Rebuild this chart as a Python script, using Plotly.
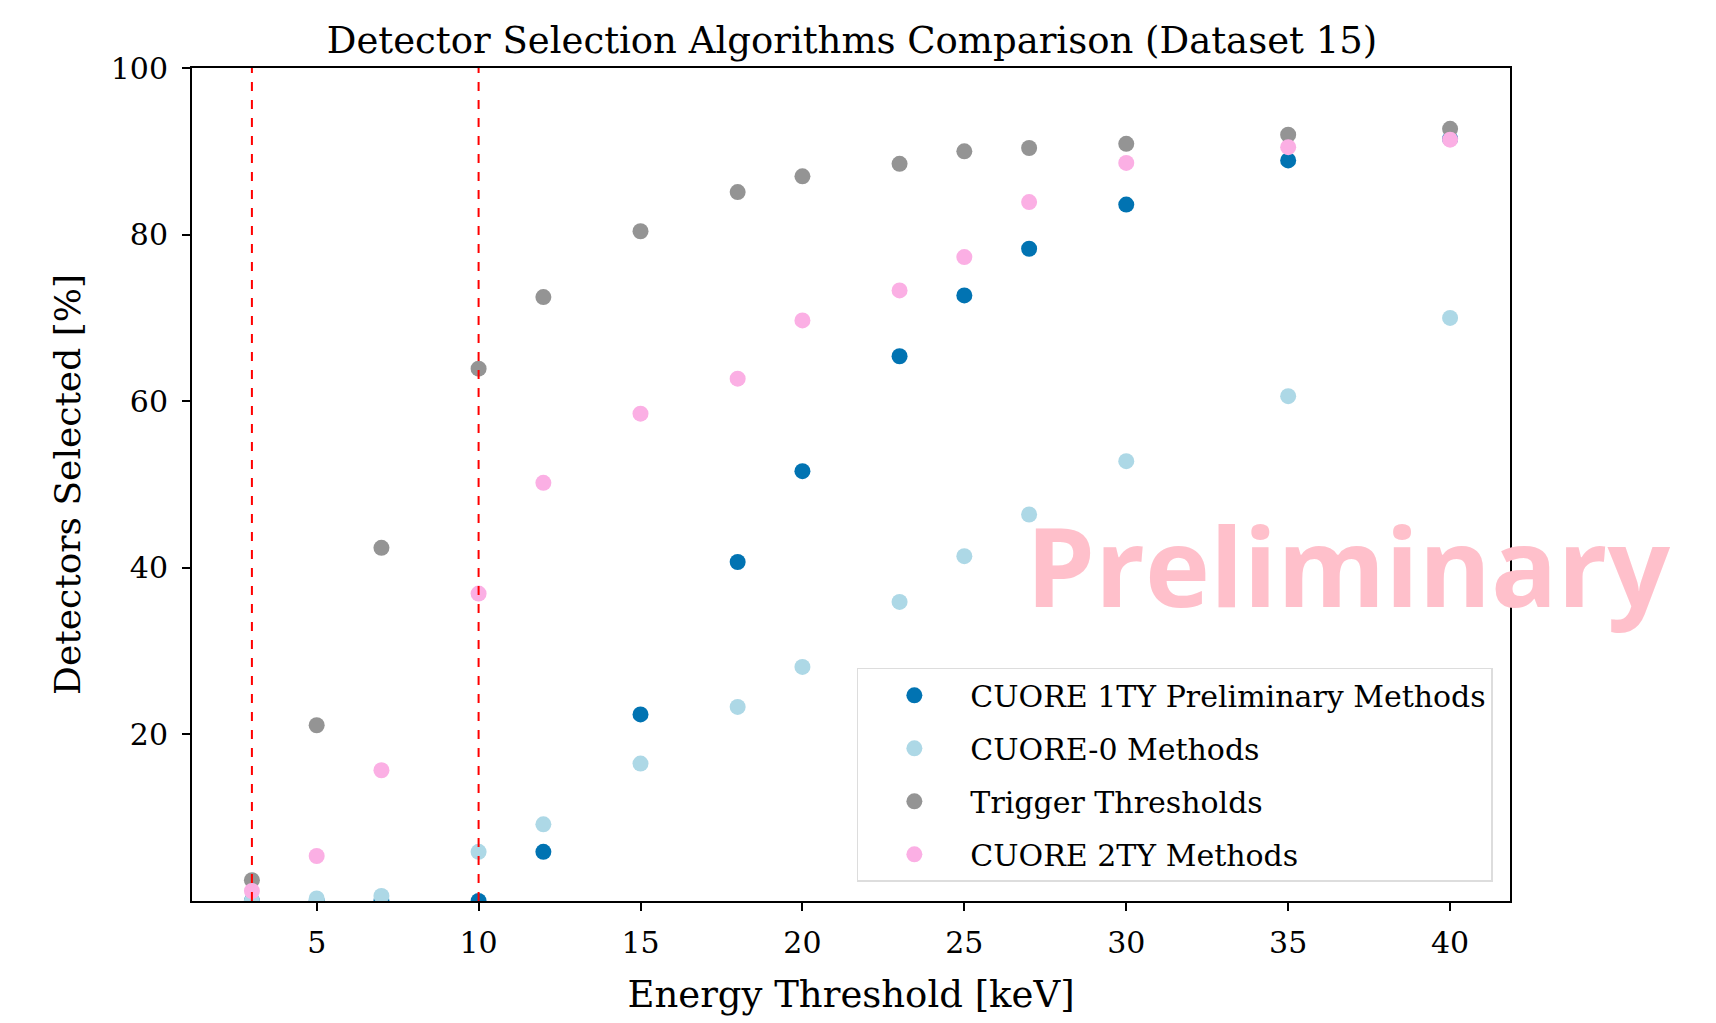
import plotly.graph_objects as go

energy_kev = [3, 5, 7, 10, 12, 15, 18, 20, 23, 25, 27, 30, 35, 40]

cuore_1ty_prelim = [0.0, 0.0, 0.0, 0.0, 5.9, 22.4, 40.7, 51.6, 65.4, 72.7, 78.3, 83.6, 88.9, 91.5]
cuore_0 = [0.0, 0.3, 0.6, 5.9, 9.2, 16.5, 23.3, 28.1, 35.9, 41.4, 46.4, 52.8, 60.6, 70.0]
trigger_thresholds = [2.5, 21.1, 42.4, 63.9, 72.5, 80.4, 85.1, 87.0, 88.5, 90.0, 90.4, 90.9, 92.0, 92.7]
cuore_2ty = [1.2, 5.4, 15.7, 36.9, 50.2, 58.5, 62.7, 69.7, 73.3, 77.3, 83.9, 88.6, 90.5, 91.4]

series_names = ["CUORE 1TY Preliminary Methods", "CUORE-0 Methods", "Trigger Thresholds", "CUORE 2TY Methods"]
series_colors = ["#0173b2", "#add8e6", "#949494", "#fbafe4"]
threshold_lines = [3, 10]

x_ticks = [5, 10, 15, 20, 25, 30, 35, 40]
y_ticks = [20, 40, 60, 80, 100]

serif = "DejaVu Serif"

fig = go.Figure()
for name, vals, col in zip(series_names, [cuore_1ty_prelim, cuore_0, trigger_thresholds, cuore_2ty], series_colors):
    fig.add_trace(go.Scatter(
        x=energy_kev, y=vals, mode="markers", name=name,
        legendgroup=name,
        marker=dict(color=col, size=16, line=dict(width=0)),
    ))

for xv in threshold_lines:
    fig.add_vline(x=xv, line=dict(color="red", width=2, dash="dash"))

fig.add_annotation(
    text="<b>Preliminary</b>", xref="paper", yref="paper", x=0.877, y=0.405,
    showarrow=False, font=dict(family="Open Sans", size=110, color="#ffc0cb"),
    xanchor="center", yanchor="middle",
)

fig.update_layout(
    width=1716, height=1023,
    paper_bgcolor="white", plot_bgcolor="white",
    margin=dict(l=192, r=206, t=68, b=122),
    font=dict(family=serif, color="black"),
    title=dict(text="Detector Selection Algorithms Comparison (Dataset 15)",
               x=0.4965, xanchor="center", y=0.961, yanchor="middle",
               font=dict(family=serif, size=37, color="black")),
    showlegend=True,
    legend=dict(
        x=0.987, y=0.023, xanchor="right", yanchor="bottom",
        bgcolor="white", bordercolor="#dddddd", borderwidth=1.5,
        font=dict(family=serif, size=30, color="black"),
        itemwidth=102, tracegroupgap=11,
    ),
)
fig.update_xaxes(
    range=[1.15, 41.85], tickvals=x_ticks, ticks="outside", ticklen=8, tickwidth=1.5,
    tickcolor="black", showgrid=False, zeroline=False,
    showline=True, linecolor="black", linewidth=2, mirror=True,
    tickfont=dict(family=serif, size=30), ticklabelstandoff=6,
    title=dict(text="Energy Threshold [keV]", font=dict(family=serif, size=37), standoff=22),
)
fig.update_yaxes(
    range=[0, 100], tickvals=y_ticks, ticks="outside", ticklen=8, tickwidth=1.5,
    tickcolor="black", showgrid=False, zeroline=False,
    showline=True, linecolor="black", linewidth=2, mirror=True,
    tickfont=dict(family=serif, size=30), ticklabelstandoff=8,
    title=dict(text="Detectors Selected [%]", font=dict(family=serif, size=36), standoff=19),
)

fig.write_html("out.html")
